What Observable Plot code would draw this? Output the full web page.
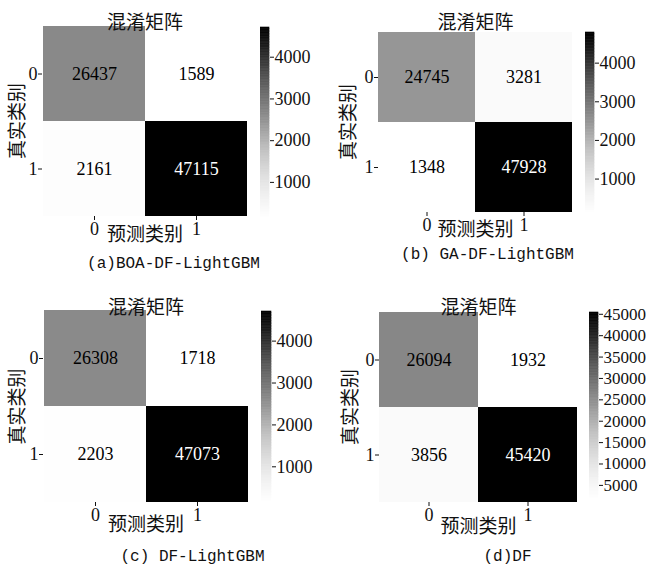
<!DOCTYPE html>
<html><head><meta charset="utf-8">
<script src="https://cdn.jsdelivr.net/npm/d3@7"></script>
<script src="https://cdn.jsdelivr.net/npm/@observablehq/plot@0.6"></script>
<style>
body{margin:0;background:#fff}
#root{position:relative;width:653px;height:574px;overflow:hidden;background:#fff}
.abs{position:absolute}
.abs svg{max-width:none !important}
</style></head><body><div id="root"></div>
<script>
// ---- data ----
const classes = ["0", "1"];
const titleText = "混淆矩阵";
const xLabel = "预测类别";
const yLabel = "真实类别";
const captions = ["(a)BOA-DF-LightGBM", "(b) GA-DF-LightGBM", "(c) DF-LightGBM", "(d)DF"];
// row-major: [true0/pred0, true0/pred1, true1/pred0, true1/pred1]
const valuesA = [26437, 1589, 2161, 47115];
const valuesB = [24745, 3281, 1348, 47928];
const valuesC = [26308, 1718, 2203, 47073];
const valuesD = [26094, 1932, 3856, 45420];
const cbarTicksABC = [1000, 2000, 3000, 4000];
const cbarTicksD = [5000, 10000, 15000, 20000, 25000, 30000, 35000, 40000, 45000];
const cbarRangeA = [159, 4712];
const cbarRangeB = [135, 4793];
const cbarRangeC = [172, 4707];
const cbarRangeD = [1932, 45420];

// ---- layout ----
const serif = "'Liberation Serif', 'DejaVu Serif', 'Noto Sans CJK SC', serif";
const cjk = "'Noto Sans CJK SC', sans-serif";
const mono = "'Liberation Mono', 'DejaVu Sans Mono', monospace";

const panels = [
  {vals: valuesA, cap: captions[0], cr: cbarRangeA, ct: cbarTicksABC, ox: 0, oy: 0,
   f: [42, 25, 247, 216], titleY: 15, xlabY: 240, ylabX: 17, capX: 173, capY: 267, cb: [260, 27, 217, 9]},
  {vals: valuesB, cap: captions[1], cr: cbarRangeB, ct: cbarTicksABC, ox: 326, oy: 0,
   f: [52, 31, 246, 212], titleY: 15, xlabY: 235, ylabX: 22, capX: 161, capY: 258, cb: [259, 32, 212, 9]},
  {vals: valuesC, cap: captions[2], cr: cbarRangeC, ct: cbarTicksABC, ox: 0, oy: 287,
   f: [43, 23, 248, 215], titleY: 13, xlabY: 243, ylabX: 17, capX: 192, capY: 273, cb: [261, 24, 214, 10]},
  {vals: valuesD, cap: captions[3], cr: cbarRangeD, ct: cbarTicksD, ox: 326, oy: 287,
   f: [53, 24, 251, 215], titleY: 13, xlabY: 245, ylabX: 24, capX: 181, capY: 273, cb: [263, 25, 211, 9]}
];

const root = document.getElementById("root");
const PW = 327, PH = 287;

for (const p of panels) {
  const data = [];
  classes.forEach((t, i) => classes.forEach((pr, j) => data.push({t, pr, v: p.vals[i * 2 + j]})));
  const lo = d3.min(p.vals), hi = d3.max(p.vals);
  const [l, t, r, b] = p.f;
  const fcx = (l + r) / 2;

  const chart = Plot.plot({
    width: PW, height: PH,
    marginLeft: l, marginTop: t, marginRight: PW - r, marginBottom: PH - b,
    style: {fontSize: "18px", fontFamily: serif, background: "transparent", color: "#111"},
    x: {type: "band", domain: classes, padding: 0, label: null, tickSize: 4, tickPadding: 2},
    y: {type: "band", domain: classes, padding: 0, label: null, tickSize: 4, tickPadding: 1},
    color: {type: "linear", scheme: "greys", domain: [lo, hi]},
    marks: [
      Plot.cell(data, {x: "pr", y: "t", fill: "v"}),
      Plot.text(data, {x: "pr", y: "t", text: d => String(d.v), fontSize: 18, fontFamily: serif,
        fill: d => (d.v - lo) / (hi - lo) > 0.75 ? "white" : "black"}),
      Plot.text([titleText], {frameAnchor: "top", dy: p.titleY - t, fontSize: 19, fontFamily: cjk, fill: "#111"}),
      Plot.text([xLabel], {frameAnchor: "bottom", dy: p.xlabY - b, fontSize: 19, fontFamily: cjk, fill: "#111"}),
      Plot.text([yLabel], {frameAnchor: "left", dx: p.ylabX - l, rotate: -90, textAnchor: "middle", fontSize: 19, fontFamily: cjk, fill: "#111"}),
      Plot.text([p.cap], {frameAnchor: "bottom", dx: p.capX - fcx, dy: p.capY - b, fontSize: 16, fontFamily: mono, fill: "#111"})
    ]
  });
  const holder = document.createElement("div");
  holder.className = "abs";
  holder.style.left = p.ox + "px";
  holder.style.top = p.oy + "px";
  holder.style.width = PW + "px";
  holder.appendChild(chart);
  root.appendChild(holder);

  // colorbar
  const [cx, ct, cbm, cw] = p.cb;
  const [c0, c1] = p.cr;
  const nStep = 120;
  const step = (c1 - c0) / nStep;
  const steps = d3.range(nStep).map(i => c0 + i * step);
  const cbW = 70;
  const cbar = Plot.plot({
    width: cw + cbW, height: (cbm - ct) + 20,
    marginLeft: 0, marginRight: cbW, marginTop: 10, marginBottom: 10,
    style: {fontSize: p.ct.length > 5 ? "17px" : "18px", fontFamily: serif, background: "transparent", color: "#111"},
    x: {domain: [0, 1], axis: null},
    y: {domain: [c0, c1], axis: "right", ticks: p.ct, tickFormat: d => String(d), tickSize: 4, tickPadding: 1, label: null},
    color: {type: "linear", scheme: "greys", domain: [c0, c1]},
    marks: [
      Plot.rect(steps, {x1: 0, x2: 1, y1: d => d, y2: d => Math.min(c1, d + step),
        fill: d => d + step / 2, stroke: d => d + step / 2, strokeWidth: 0.6})
    ]
  });
  const ch = document.createElement("div");
  ch.className = "abs";
  ch.style.left = (p.ox + cx) + "px";
  ch.style.top = (p.oy + ct - 10) + "px";
  ch.style.width = (cw + cbW) + "px";
  ch.appendChild(cbar);
  root.appendChild(ch);
}
</script></body></html>
